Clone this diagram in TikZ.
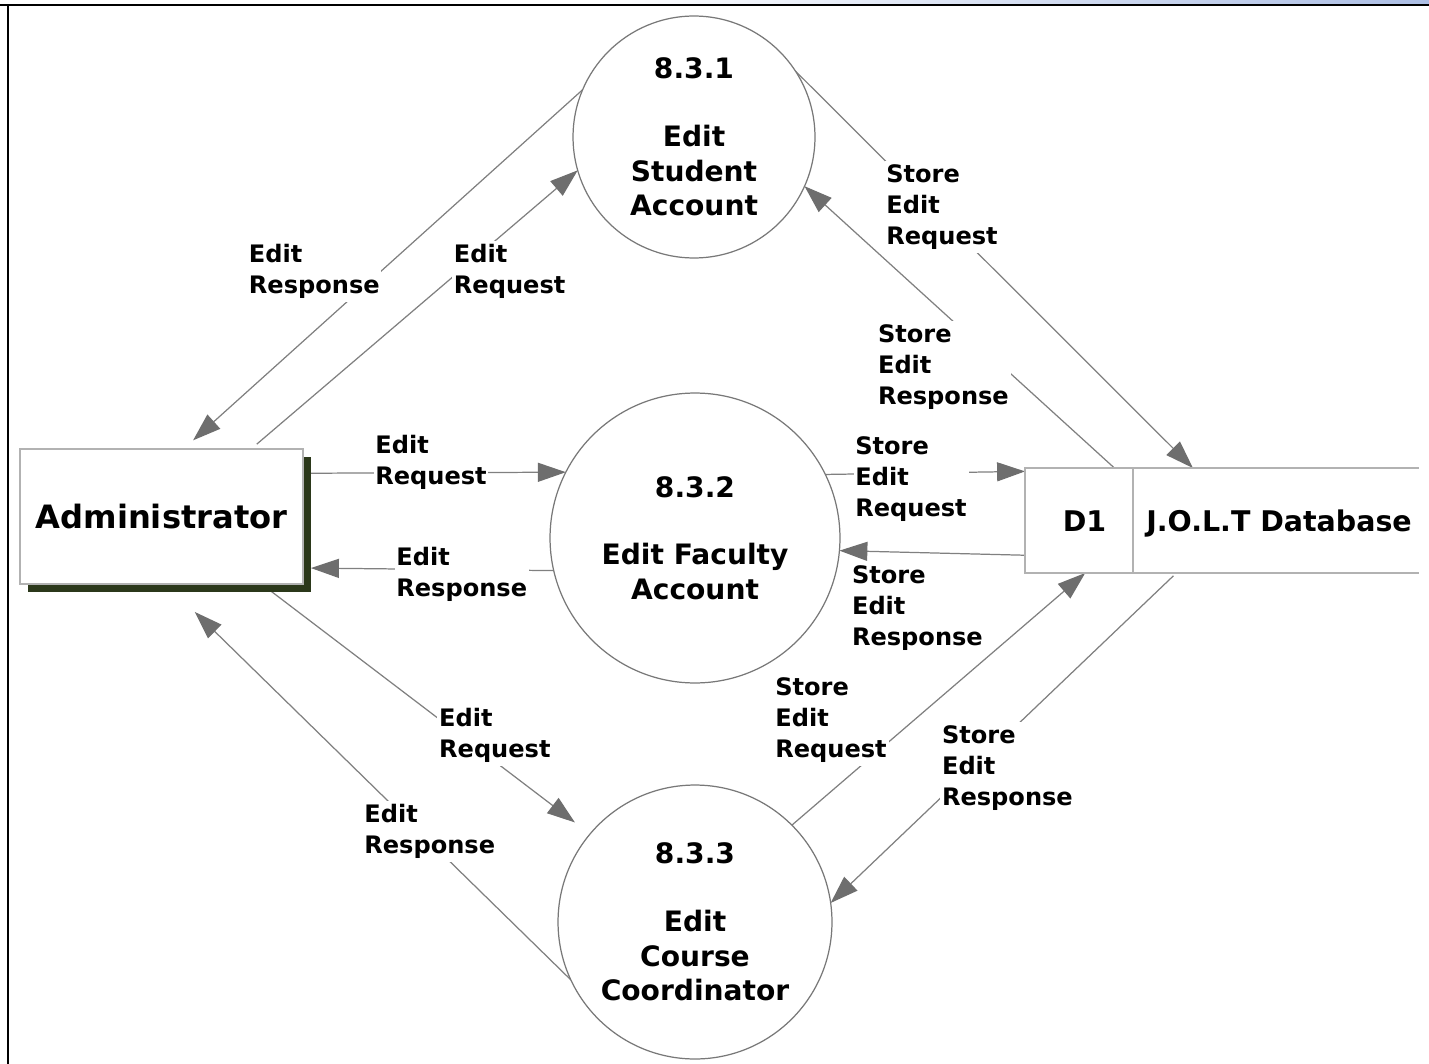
\documentclass[tikz,border=0pt]{standalone}
\usepackage{fontspec}
\setmainfont{DejaVu Sans}
\usetikzlibrary{arrows.meta,shadows,calc}
\definecolor{lc}{RGB}{128,128,128}
\definecolor{hc}{RGB}{110,110,110}
\definecolor{cc}{RGB}{120,120,120}
\definecolor{bc}{RGB}{178,178,178}
\definecolor{sc}{RGB}{43,56,26}
\definecolor{topblue}{RGB}{172,190,228}
\pgfdeclarelayer{paper}
\pgfdeclarelayer{lines}
\pgfsetlayers{paper,lines,main}
\begin{document}
\begin{tikzpicture}[x=0.02cm,y=-0.02cm,
  proc/.style={circle,draw=cc,line width=0.7pt,fill=white,inner sep=0pt,outer sep=0pt,align=center,font=\bfseries\fontsize{16}{19.6}\selectfont},
  ent/.style={rectangle,draw=bc,line width=1.1pt,fill=white,minimum width=5.66cm,minimum height=2.7cm,inner sep=0pt,outer sep=0pt,font=\bfseries\fontsize{18.3}{22}\selectfont,drop shadow={shadow xshift=0.16cm,shadow yshift=-0.16cm,fill=sc,opacity=1}},
  lbl/.style={anchor=base west,align=left,fill=white,inner xsep=1pt,inner ysep=2pt,xshift=-1pt,font=\bfseries\fontsize{13.7}{17.5}\selectfont},
  dbtext/.style={anchor=base,inner sep=0pt,font=\bfseries\fontsize{16.2}{19}\selectfont},
  flow/.style={draw=lc,line width=0.7pt,-{Triangle[length=15.9pt,width=10.8pt,color=hc]}},
  dbline/.style={draw=bc,line width=1.1pt}
]
\useasboundingbox (0,0) rectangle (1429,1064);
\begin{pgfonlayer}{paper}
\fill[white] (0,0) rectangle (1429,1064);
\shade[left color=white,right color=topblue] (600,0) rectangle (1429,3.8);
\end{pgfonlayer}
\fill[black] (0,3.8) rectangle (1429,6.2);
\fill[black] (6.8,3.8) rectangle (9.2,1064);

% nodes
\node[ent] (admin) at (161.5,516.5) {Administrator};
\node[proc,minimum size=4.84cm] (c1) at (694,137) {8.3.1\\[19pt]Edit\\Student\\Account};
\node[proc,minimum size=5.8cm] (c2) at (695,538) {8.3.2\\[19pt]Edit Faculty\\Account};
\node[proc,minimum size=5.48cm] (c3) at (695,922) {8.3.3\\[19pt]Edit\\Course\\Coordinator};
\node[minimum width=7.88cm,minimum height=2.1cm,inner sep=0pt,outer sep=0pt] (d1) at (1222,520.5) {};
\draw[dbline] (d1.north east) -- (d1.north west) -- (d1.south west) -- (d1.south east);
\draw[dbline] ($(d1.north west)+(108,0)$) -- ($(d1.south west)+(108,0)$);
\node[dbtext] (d1id) at (1084.5,531.7) {D1};
\node[dbtext] (d1name) at (1279,531.7) {J.O.L.T Database};

% connectors
\begin{pgfonlayer}{lines}
\draw[flow,shorten >=0.26cm] (c1.157.2) -- (admin.72.3);
\draw[flow,shorten <=0.15cm] (admin.37) -- (c1.-164.1);
\draw[flow] (c1.33.2) -- (d1.119.7);
\draw[flow] (d1.154.5) -- (c1.-24.6);
\draw[flow,shorten <=0.16cm] (admin.17.1) -- (c2.153.4);
\draw[flow,shorten >=0.16cm] (c2.-167.65) -- (admin.-20.35);
\draw[flow] (c2.26.6) -- (d1.166.4);
\draw[flow] (d1.-170.6) -- (c2.-5.94);
\draw[flow,shorten >=0.38cm] (admin.-34.8) -- (c3.140);
\draw[flow,shorten >=0.8cm] (c3.-155.7) -- (admin.-86.2);
\draw[flow] (c3.45.3) -- (d1.-159.7);
\draw[flow,shorten <=0.08cm] (d1.-131.8) -- (c3.8.4);
\end{pgfonlayer}

% labels (anchored at the baseline of the last line)
\node[lbl] (l1) at (248.6,293.5) {Edit\\Response};
\node[lbl] (l2) at (453.6,293.5) {Edit\\Request};
\node[lbl] (l3) at (886,244.3) {Store\\Edit\\Request};
\node[lbl] (l4) at (877.7,404.3) {Store\\Edit\\Response};
\node[lbl] (l5) at (375,484.5) {Edit\\Request};
\node[lbl] (l6) at (396,596.5) {Edit\\Response};
\node[lbl] (l7) at (855,516.3) {Store\\Edit\\Request};
\node[lbl] (l8) at (851.7,645.3) {Store\\Edit\\Response};
\node[lbl] (l9) at (438.8,757.5) {Edit\\Request};
\node[lbl] (l10) at (364,853.5) {Edit\\Response};
\node[lbl] (l11) at (775,757.3) {Store\\Edit\\Request};
\node[lbl] (l12) at (941.7,805) {Store\\Edit\\Response};
\end{tikzpicture}
\end{document}
